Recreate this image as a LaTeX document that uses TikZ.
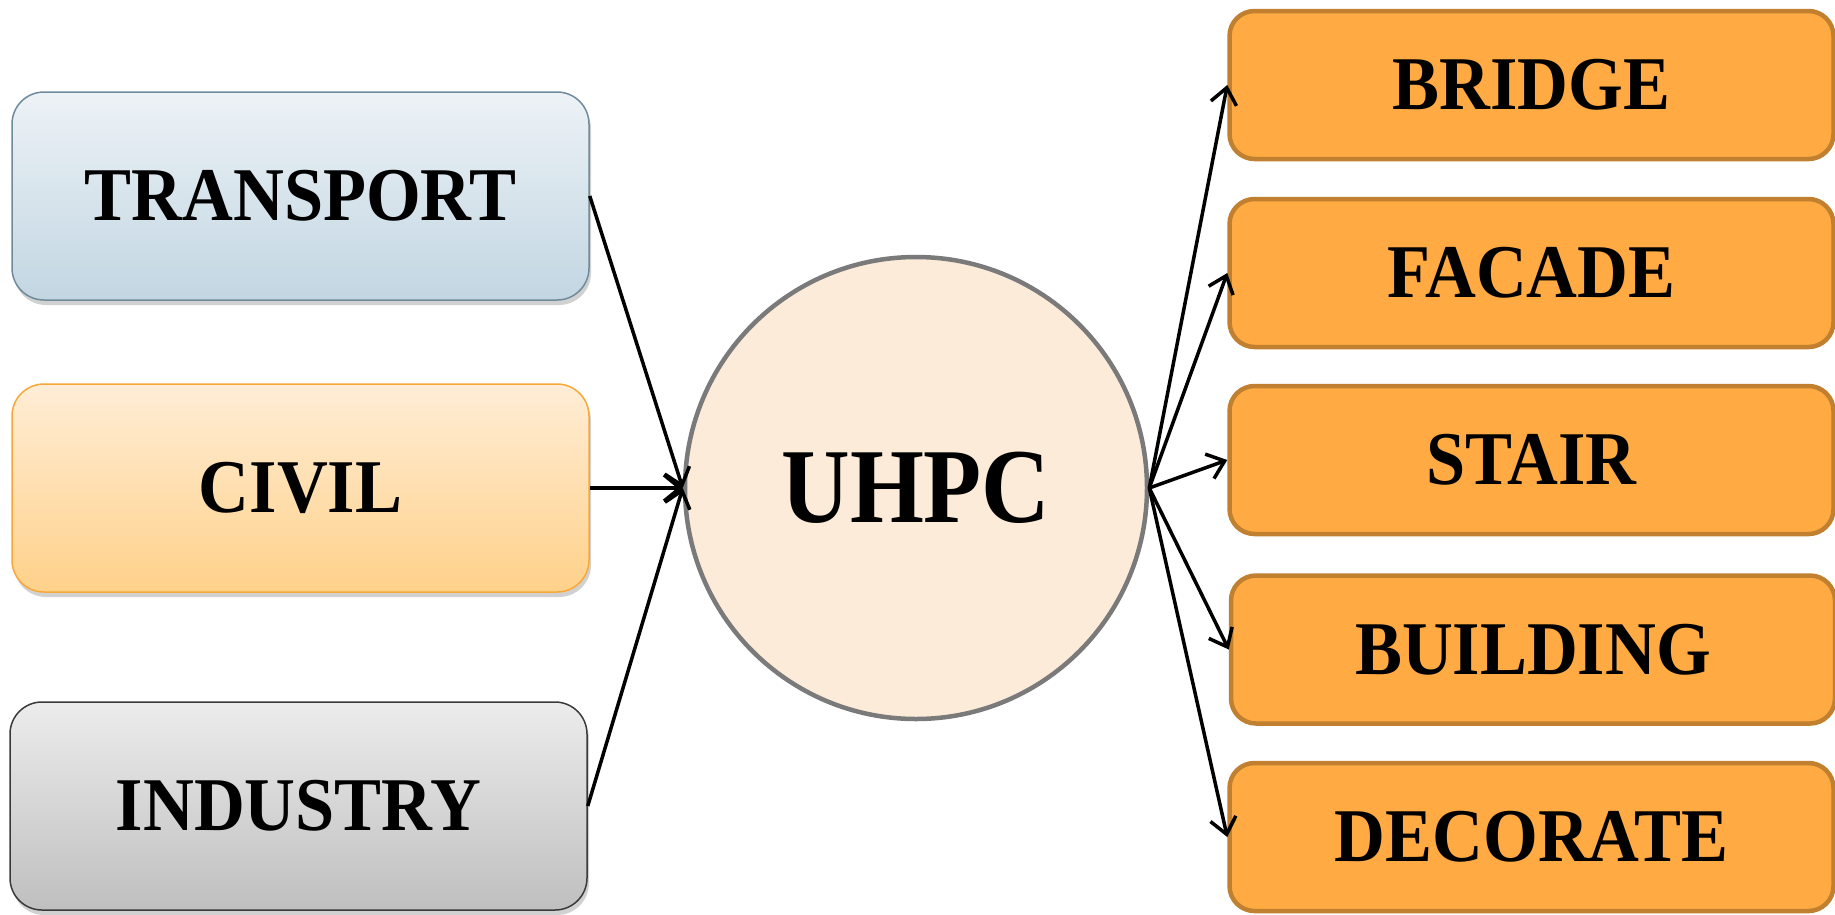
\documentclass[tikz,border=0pt]{standalone}
\usepackage{fontspec}
\usepackage{graphicx}
\setmainfont{Liberation Serif}
\usetikzlibrary{arrows.meta,shadows}
\definecolor{tbTop}{HTML}{EDF2F6}
\definecolor{tbBot}{HTML}{C2D6E2}
\definecolor{tbLine}{HTML}{6F8B9B}
\definecolor{cvTop}{HTML}{FFEDD6}
\definecolor{cvBot}{HTML}{FFD18A}
\definecolor{cvLine}{HTML}{F7A838}
\definecolor{inTop}{HTML}{ECECEC}
\definecolor{inBot}{HTML}{BFBFBF}
\definecolor{inLine}{HTML}{3A3A3A}
\definecolor{circFill}{HTML}{FDEBD9}
\definecolor{circLine}{HTML}{7A7A7A}
\definecolor{orFill}{HTML}{FFAA42}
\definecolor{orLine}{HTML}{C0802F}
\newcommand{\lbl}[1]{\scalebox{1.02}[1.1]{#1}}
\tikzset{
  leftbox/.style={rounded corners=32pt, minimum width=577pt, minimum height=208pt,
    line width=1.5pt, inner sep=0pt,
    font=\fontsize{69}{80}\selectfont\bfseries,
    drop shadow={shadow xshift=2pt, shadow yshift=-5pt, opacity=0.3, fill=black!60}},
  rightbox/.style={rounded corners=25pt, minimum width=604pt, minimum height=148pt,
    draw=orLine, fill=orFill, line width=4.5pt, inner sep=0pt,
    font=\fontsize{69}{80}\selectfont\bfseries},
  hub/.style={circle, minimum size=462pt, draw=circLine, fill=circFill, line width=4.5pt,
    inner sep=0pt, font=\fontsize{95}{110}\selectfont\bfseries},
  conn/.style={line width=3.5pt, -{Straight Barb[length=16pt,width=26pt,line width=3.5pt]}}
}
\begin{document}
\begin{tikzpicture}[x=1pt,y=-1pt]
\useasboundingbox (0,0) rectangle (1835,914);
\node[leftbox, draw=tbLine, top color=tbTop, bottom color=tbBot] (transport) at (300.5,196) {\lbl{TRANSPORT}};
\node[leftbox, draw=cvLine, top color=cvTop, bottom color=cvBot] (civil) at (300.5,488) {\lbl{CIVIL}};
\node[leftbox, draw=inLine, top color=inTop, bottom color=inBot] (industry) at (298.5,806) {\lbl{INDUSTRY}};
\node[hub] (uhpc) at (916,488) {\scalebox{1}[1.12]{UHPC}};
\node[rightbox] (bridge) at (1531.5,85) {\lbl{BRIDGE}};
\node[rightbox] (facade) at (1531.5,273) {\lbl{FACADE}};
\node[rightbox] (stair) at (1531.5,460) {\lbl{STAIR}};
\node[rightbox] (building) at (1533,649.5) {\lbl{BUILDING}};
\node[rightbox] (decorate) at (1531.5,837) {\lbl{DECORATE}};
\draw[conn] (transport.east) -- (uhpc.west);
\draw[conn] (civil.east) -- (uhpc.west);
\draw[conn] (industry.east) -- (uhpc.west);
\draw[conn] (uhpc.east) -- (bridge.west);
\draw[conn] (uhpc.east) -- (facade.west);
\draw[conn] (uhpc.east) -- (stair.west);
\draw[conn] (uhpc.east) -- (building.west);
\draw[conn] (uhpc.east) -- (decorate.west);
\end{tikzpicture}
\end{document}
